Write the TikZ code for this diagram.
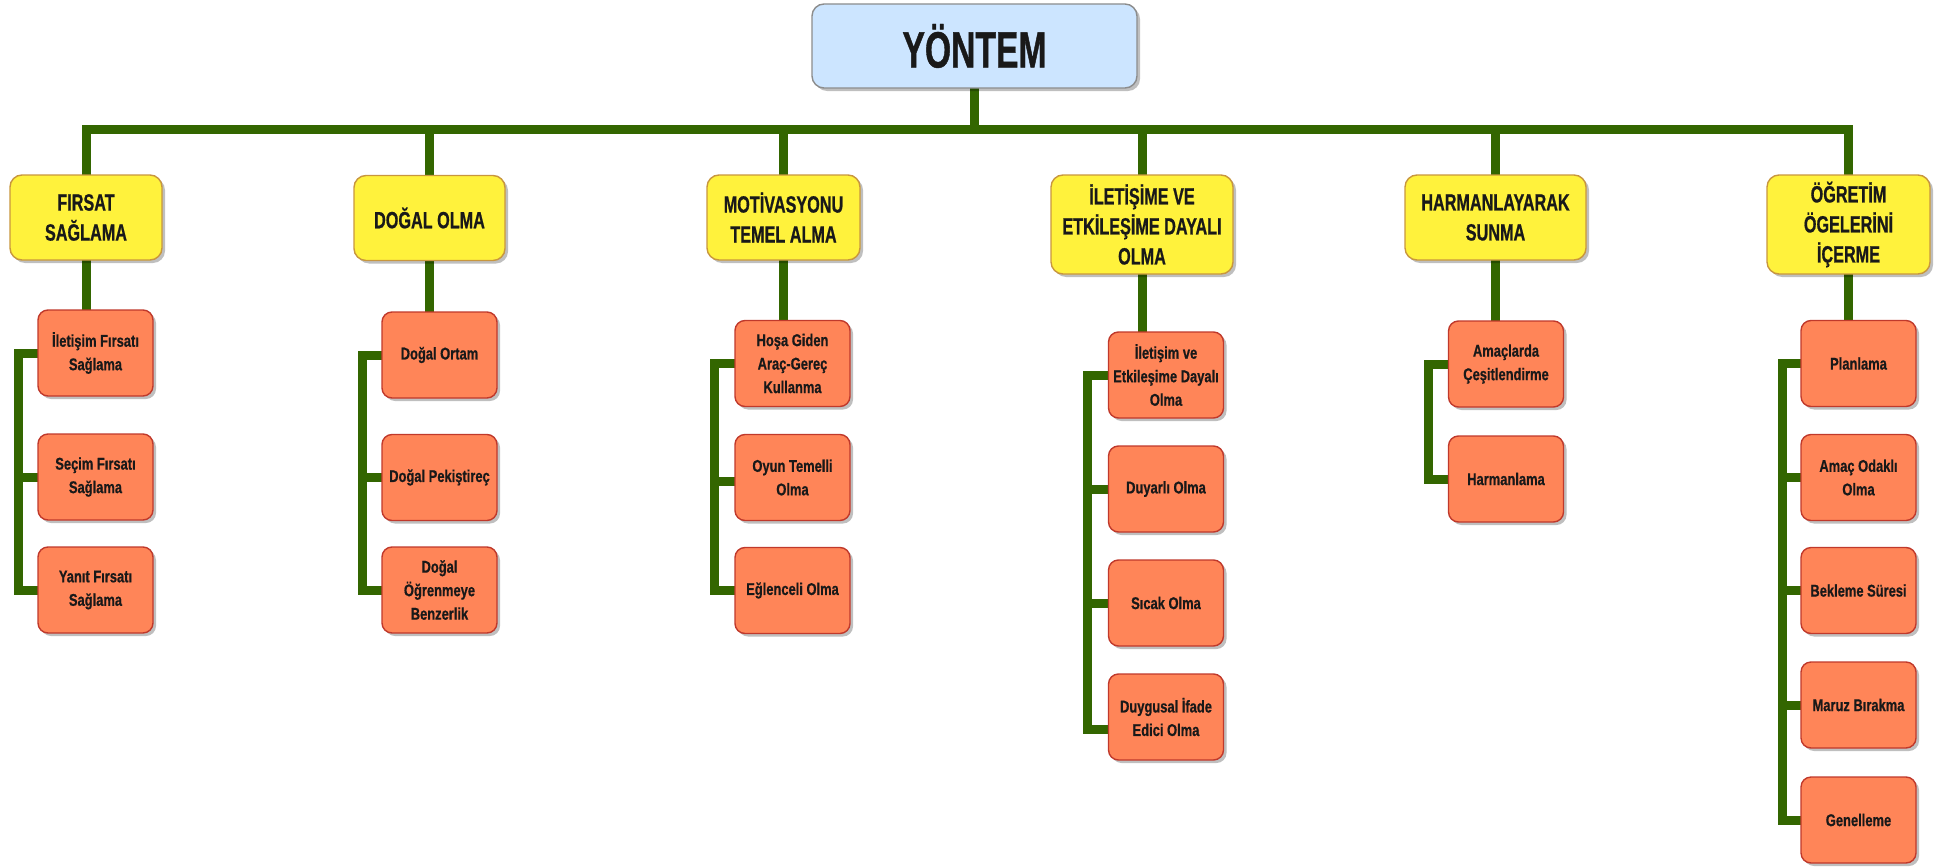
\documentclass[tikz,border=0pt]{standalone}
\usepackage{fontspec}
\setmainfont{Liberation Sans}
\newfontfamily\rootfont{Liberation Sans}[FakeStretch=0.66, BoldFeatures={FakeBold=0.8}]
\newfontfamily\topicfont{Liberation Sans}[FakeStretch=0.69, BoldFeatures={FakeBold=0.7}]
\newfontfamily\leaffont{Liberation Sans}[FakeStretch=0.76, BoldFeatures={FakeBold=0.6}]
\usetikzlibrary{shadows}

\definecolor{rootfill}{HTML}{CCE5FF}
\definecolor{rootline}{HTML}{8C8C8C}
\definecolor{topicfill}{HTML}{FFF23C}
\definecolor{topicline}{HTML}{C8963E}
\definecolor{leaffill}{HTML}{FF8558}
\definecolor{leafline}{HTML}{C0392B}
\definecolor{branch}{HTML}{336600}

\pgfdeclarelayer{bg}
\pgfsetlayers{bg,main}

\tikzset{
  box/.style={rounded corners=10pt, line width=1.4pt, align=center, inner sep=2pt,
    text=black!90,
    drop shadow={shadow xshift=3pt, shadow yshift=-3pt, fill=black, opacity=0.25}},
  rootbox/.style={box, fill=rootfill, draw=rootline, minimum width=325pt, minimum height=84pt,
    rounded corners=12pt, font=\rootfont\bfseries\fontsize{51}{60}\selectfont},
  topic/.style={box, fill=topicfill, draw=topicline, minimum height=85pt,
    rounded corners=12pt, font=\topicfont\bfseries\fontsize{23.5}{30}\selectfont},
  leaf/.style={box, fill=leaffill, draw=leafline, minimum width=115pt, minimum height=86pt,
    font=\leaffont\bfseries\fontsize{17}{23.5}\selectfont},
  branchline/.style={draw=branch, line width=9pt, line cap=rect},
}

\begin{document}
\begin{tikzpicture}[x=1pt, y=-1pt]
\useasboundingbox (0,0) rectangle (1941,867);

% root
\node[rootbox] (root) at (974.5,46) {YÖNTEM};
\coordinate (bar) at (974.5,129);

% second level
\node[topic, minimum width=152pt] (t1) at (86,217.5) {FIRSAT\\SAĞLAMA};
\node[topic, minimum width=151pt] (t2) at (429.5,218) {DOĞAL OLMA};
\node[topic, minimum width=153pt] (t3) at (783.5,217.5) {MOTİVASYONU\\TEMEL ALMA};
\node[topic, minimum width=182pt, minimum height=99pt] (t4) at (1142,224.5) {İLETİŞİME VE\\ETKİLEŞİME DAYALI\\OLMA};
\node[topic, minimum width=181pt] (t5) at (1495.5,217.5) {HARMANLAYARAK\\SUNMA};
\node[topic, minimum width=163pt, minimum height=99pt] (t6) at (1848.5,224.5) {ÖĞRETİM\\ÖGELERİNİ\\İÇERME};

% leaves, column 1
\node[leaf] (a1) at (95.5,353) {İletişim Fırsatı\\Sağlama};
\node[leaf] (a2) at (95.5,477) {Seçim Fırsatı\\Sağlama};
\node[leaf] (a3) at (95.5,590) {Yanıt Fırsatı\\Sağlama};
% column 2
\node[leaf] (b1) at (439.5,355) {Doğal Ortam};
\node[leaf] (b2) at (439.5,477.5) {Doğal Pekiştireç};
\node[leaf] (b3) at (439.5,590) {Doğal\\Öğrenmeye\\Benzerlik};
% column 3
\node[leaf] (c1) at (792.5,363.5) {Hoşa Giden\\Araç-Gereç\\Kullanma};
\node[leaf] (c2) at (792.5,477.5) {Oyun Temelli\\Olma};
\node[leaf] (c3) at (792.5,590.5) {Eğlenceli Olma};
% column 4
\node[leaf] (d1) at (1166,375) {İletişim ve\\Etkileşime Dayalı\\Olma};
\node[leaf] (d2) at (1166,489) {Duyarlı Olma};
\node[leaf] (d3) at (1166,603) {Sıcak Olma};
\node[leaf] (d4) at (1166,717) {Duygusal İfade\\Edici Olma};
% column 5
\node[leaf] (e1) at (1506,364) {Amaçlarda\\Çeşitlendirme};
\node[leaf] (e2) at (1506,479) {Harmanlama};
% column 6
\node[leaf] (f1) at (1858.5,363.5) {Planlama};
\node[leaf] (f2) at (1858.5,477.5) {Amaç Odaklı\\Olma};
\node[leaf] (f3) at (1858.5,590.5) {Bekleme Süresi};
\node[leaf] (f4) at (1858.5,705) {Maruz Bırakma};
\node[leaf] (f5) at (1858.5,820) {Genelleme};

\begin{pgfonlayer}{bg}
  % trunk and main bar
  \draw[branchline] (root.south) -- (bar);
  \draw[branchline] (t1.north |- bar) -- (t6.north |- bar);
  \foreach \t in {t1,t2,t3,t4,t5,t6}
    \draw[branchline] (\t.north) -- (\t.north |- bar);
  % topic to first leaf
  \draw[branchline] (t1.south) -- (t1.south |- a1.north);
  \draw[branchline] (t2.south) -- (t2.south |- b1.north);
  \draw[branchline] (t3.south) -- (t3.south |- c1.north);
  \draw[branchline] (t4.south) -- (t4.south |- d1.north);
  \draw[branchline] (t5.south) -- (t5.south |- e1.north);
  \draw[branchline] (t6.south) -- (t6.south |- f1.north);
  % side spines
  \draw[branchline] (a1.west) -- ++(-19,0) |- (a3.west);
  \draw[branchline] (a2.west) -- ++(-19,0);
  \draw[branchline] (b1.west) -- ++(-19,0) |- (b3.west);
  \draw[branchline] (b2.west) -- ++(-19,0);
  \draw[branchline] (c1.west) -- ++(-20,0) |- (c3.west);
  \draw[branchline] ([yshift=-4pt]c2.west) -- ++(-20,0);
  \draw[branchline] (d1.west) -- ++(-20,0) |- ([yshift=-12pt]d4.west);
  \draw[branchline] (d2.west) -- ++(-20,0);
  \draw[branchline] (d3.west) -- ++(-20,0);
  \draw[branchline] (e1.west) -- ++(-19,0) |- (e2.west);
  \draw[branchline] (f1.west) -- ++(-18,0) |- (f5.west);
  \foreach \f in {f2,f3,f4}
    \draw[branchline] (\f.west) -- ++(-18,0);
\end{pgfonlayer}
\end{tikzpicture}
\end{document}
